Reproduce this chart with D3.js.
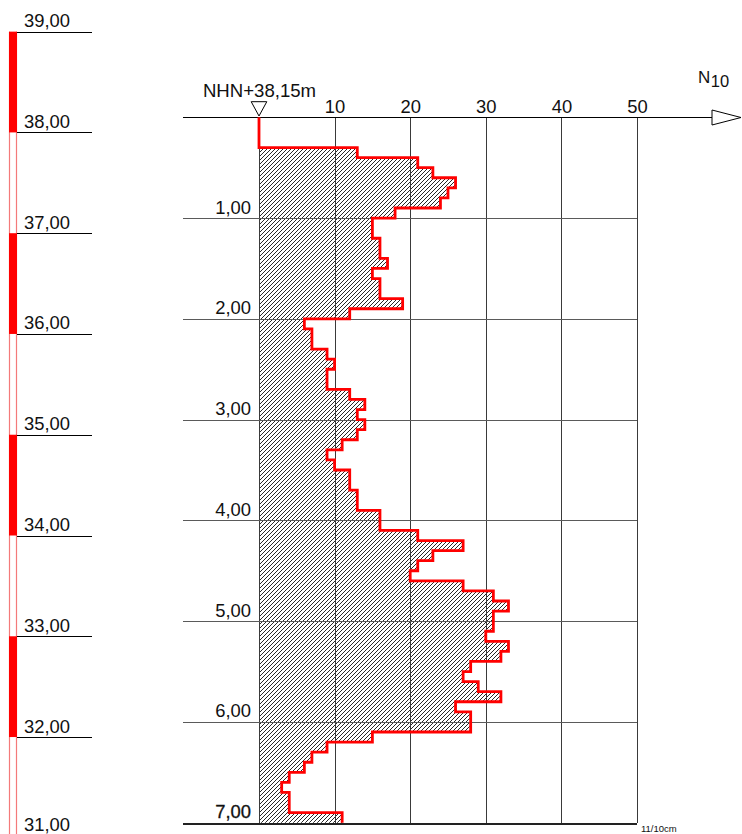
<!DOCTYPE html>
<html>
<head>
<meta charset="utf-8">
<script src="https://cdn.jsdelivr.net/npm/d3@7"></script>
<style>
  html, body { margin: 0; padding: 0; background: #fff; }
  svg { display: block; font-family: "Liberation Sans", Arial, sans-serif; }
</style>
</head>
<body>
<svg id="chart" width="742" height="834"></svg>
<script>
// Dynamic probing log: blow counts N10 per 10 cm of penetration
const stepDepth = 0.1;                 // m per interval
const blowCounts = [
  0, 0, 0, 13, 21, 23, 26, 25, 24, 18,     // 0.0 - 1.0 m
  15, 15, 16, 16, 17, 15, 16, 16, 19, 12,  // 1.0 - 2.0 m
  6, 7, 7, 9, 10, 9, 9, 12, 14, 13,        // 2.0 - 3.0 m
  14, 13, 11, 9, 10, 12, 12, 13, 13, 16,   // 3.0 - 4.0 m
  16, 21, 27, 23, 21, 20, 27, 31, 33, 31,  // 4.0 - 5.0 m
  31, 30, 33, 32, 28, 27, 29, 32, 26, 28,  // 5.0 - 6.0 m
  28, 15, 9, 7, 6, 4, 3, 4, 4, 11          // 6.0 - 7.0 m
];
const nTicks = [10, 20, 30, 40, 50];
const depthTicks = [1, 2, 3, 4, 5, 6, 7];
const elevationTicks = [39, 38, 37, 36, 35, 34, 33, 32, 31];
const filledBands = [[39, 38], [37, 36], [35, 34], [33, 32], [31, 30]];
const startElevation = 38.15;
const maxDepth = 7;
const fmt = v => v.toFixed(2).replace(".", ",");

const svg = d3.select("#chart");

const x = d3.scaleLinear().domain([0, 50]).range([259, 637]);
const y = d3.scaleLinear().domain([0, maxDepth]).range([117.3, 822.7]);
const yElev = d3.scaleLinear()
  .domain([startElevation, startElevation - maxDepth])
  .range([117.3, 822.7]);

const gridLeft = 183, gridRight = x(50);

// hatch pattern for the probing diagram
const defs = svg.append("defs");
const pat = defs.append("pattern")
  .attr("id", "hatch").attr("patternUnits", "userSpaceOnUse")
  .attr("width", 4).attr("height", 4);
pat.append("path")
  .attr("d", "M-1,1 l2,-2 M0,4 l4,-4 M3,5 l2,-2")
  .attr("stroke", "#000").attr("stroke-width", 0.85);

// ---------- elevation bar on the left ----------
const bar = svg.append("g");
const barX0 = 9, barX1 = 17;
bar.append("line").attr("x1", barX0 + 0.5).attr("x2", barX0 + 0.5)
  .attr("y1", yElev(39)).attr("y2", 834)
  .attr("stroke", "#f47a7a").attr("stroke-width", 1.2);
bar.append("line").attr("x1", barX1 - 0.5).attr("x2", barX1 - 0.5)
  .attr("y1", yElev(39)).attr("y2", 834)
  .attr("stroke", "#f47a7a").attr("stroke-width", 1.2);
bar.selectAll("rect.band").data(filledBands).join("rect")
  .attr("class", "band")
  .attr("x", barX0).attr("width", barX1 - barX0)
  .attr("y", d => yElev(d[0]))
  .attr("height", d => yElev(d[1]) - yElev(d[0]))
  .attr("fill", "#ff0000");

const elev = svg.append("g");
elev.selectAll("line").data(elevationTicks).join("line")
  .attr("x1", barX1).attr("x2", 92)
  .attr("y1", d => Math.round(yElev(d)) + 0.5)
  .attr("y2", d => Math.round(yElev(d)) + 0.5)
  .attr("stroke", "#000").attr("stroke-width", 1);
elev.selectAll("text").data(elevationTicks).join("text")
  .attr("x", 24).attr("y", d => Math.min(yElev(d) - 4.5, 831))
  .attr("font-size", 18.4).attr("fill", "#111")
  .text(fmt);

// ---------- probing diagram ----------
// step outline built from the blow counts
const pts = [[x(0), y(0)]];
blowCounts.forEach((n, i) => {
  pts.push([x(n), y(i * stepDepth)]);
  pts.push([x(n), y((i + 1) * stepDepth)]);
});
const line = d3.line();

// hatched area
const areaPts = pts.concat([[x(0), y(maxDepth)]]);
svg.append("path")
  .attr("d", line(areaPts) + "Z")
  .attr("fill", "url(#hatch)").attr("stroke", "none");

// grid
const grid = svg.append("g").attr("shape-rendering", "crispEdges");
grid.selectAll("line.v").data([0].concat(nTicks)).join("line")
  .attr("class", "v")
  .attr("x1", d => Math.round(x(d)) + 0.5).attr("x2", d => Math.round(x(d)) + 0.5)
  .attr("y1", y(0)).attr("y2", y(maxDepth))
  .attr("stroke", "#3a3a3a").attr("stroke-width", 1);
grid.selectAll("line.h").data(depthTicks).join("line")
  .attr("class", "h")
  .attr("x1", gridLeft).attr("x2", gridRight)
  .attr("y1", d => Math.round(y(d)) + 0.5).attr("y2", d => Math.round(y(d)) + 0.5)
  .attr("stroke", d => d === maxDepth ? "#222" : "#5a5a5a")
  .attr("stroke-width", d => d === maxDepth ? 2 : 1);

// depth labels
svg.append("g").selectAll("text").data(depthTicks).join("text")
  .attr("x", 251).attr("y", d => y(d) - 4.5)
  .attr("text-anchor", "end").attr("font-size", 18.4).attr("fill", "#111")
  .attr("stroke", d => d === maxDepth ? "#111" : "none")
  .attr("stroke-width", 0.3)
  .text(fmt);

// top N10 axis
const axisY = Math.round(y(0)) + 0.5;
svg.append("line")
  .attr("x1", gridLeft).attr("x2", 712)
  .attr("y1", axisY).attr("y2", axisY)
  .attr("stroke", "#000").attr("stroke-width", 1);
svg.append("path")
  .attr("d", `M712,${axisY - 7.5} L741,${axisY} L712,${axisY + 7.5} Z`)
  .attr("fill", "#fff").attr("stroke", "#000").attr("stroke-width", 1);

const xAxis = d3.axisTop(x).tickValues(nTicks).tickSize(0).tickPadding(4.5);
const gx = svg.append("g").attr("transform", `translate(0,${y(0)})`).call(xAxis);
gx.select(".domain").remove();
gx.selectAll("text").attr("font-size", 18.4).attr("fill", "#111")
  .attr("font-family", "Liberation Sans, Arial, sans-serif");

// axis title N10
const t = svg.append("text").attr("x", 698).attr("y", 82.5)
  .attr("font-size", 17).attr("fill", "#111");
t.append("tspan").text("N");
t.append("tspan").attr("dx", 0.5).attr("dy", 4.5).attr("font-size", 16.5).text("10");

// starting level marker
svg.append("path")
  .attr("d", `M${x(0) - 7.8},101.7 L${x(0) + 7.8},101.7 L${x(0)},116 Z`)
  .attr("fill", "#fff").attr("stroke", "#000").attr("stroke-width", 1);
svg.append("text")
  .attr("x", x(0) + 0.5).attr("y", 97.3)
  .attr("text-anchor", "middle").attr("font-size", 18.6).attr("fill", "#111")
  .text("NHN+" + startElevation.toFixed(2).replace(".", ",") + "m");

// red step outline
svg.append("path")
  .attr("d", line(pts))
  .attr("fill", "none").attr("stroke", "#ff0000")
  .attr("stroke-width", 2.8).attr("stroke-linejoin", "miter");

// scale note
svg.append("text").attr("x", 641).attr("y", 832)
  .attr("font-size", 9.5).attr("fill", "#111").text("11/10cm");
</script>
</body>
</html>
